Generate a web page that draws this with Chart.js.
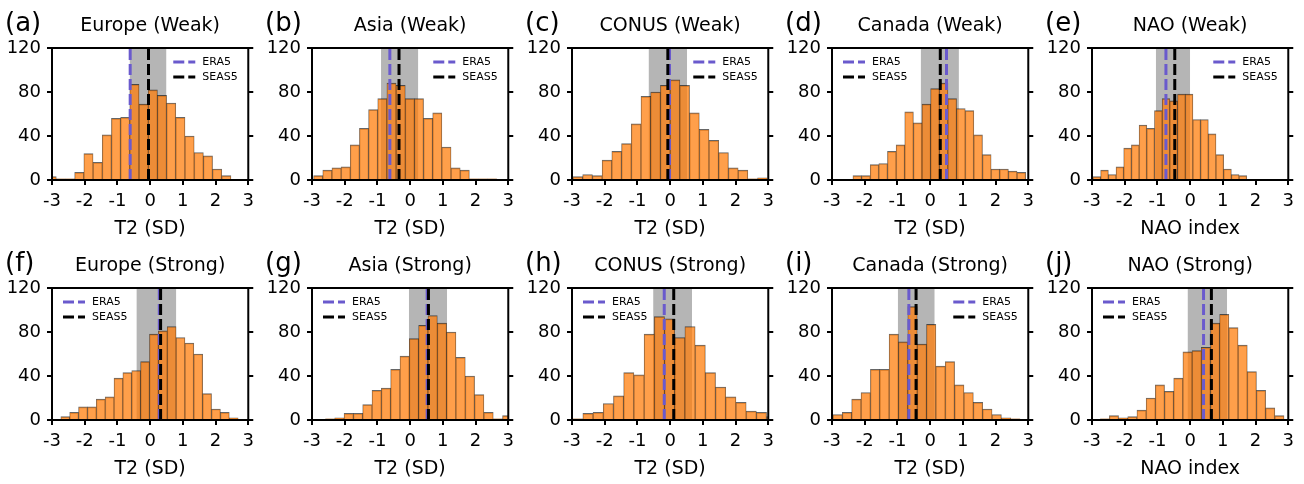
<!DOCTYPE html>
<html lang="en">
<head>
<meta charset="UTF-8">
<title>T2 and NAO histograms</title>
<style>
  html, body { margin: 0; padding: 0; background: #fff; }
  #wrap { position: relative; width: 1304px; height: 484px; overflow: hidden; }
  .panel { position: absolute; width: 260px; }
</style>
</head>
<body>
<div id="wrap"></div>

<script src="https://cdn.jsdelivr.net/npm/chart.js"></script>
<script>
    // panel text
    var panelLetters = ['(a)', '(b)', '(c)', '(d)', '(e)', '(f)', '(g)', '(h)', '(i)', '(j)'];
    var panelTitles = ['Europe (Weak)', 'Asia (Weak)', 'CONUS (Weak)', 'Canada (Weak)', 'NAO (Weak)',
                       'Europe (Strong)', 'Asia (Strong)', 'CONUS (Strong)', 'Canada (Strong)', 'NAO (Strong)'];
    var axisTitles = ['T2 (SD)', 'T2 (SD)', 'T2 (SD)', 'T2 (SD)', 'NAO index',
                      'T2 (SD)', 'T2 (SD)', 'T2 (SD)', 'T2 (SD)', 'NAO index'];
    var xTicks = [-3, -2, -1, 0, 1, 2, 3];
    var yTicks = [0, 40, 80, 120];

    // histogram bins: first edge and width of each panel's 20 bins
    var binStart = [-3.15, -2.95, -2.97, -2.36, -2.97, -2.73, -2.59, -2.98, -2.97, -2.75];
    var binWidth = [0.281, 0.280, 0.297, 0.264, 0.235, 0.271, 0.285, 0.312, 0.286, 0.281];

    // counts per bin
    var europeWeak   = [3, 1, 1, 7, 24, 16, 41, 56, 57, 87, 69, 82, 77, 70, 57, 40, 25, 22, 10, 4];
    var asiaWeak     = [4, 9, 11, 12, 32, 47, 64, 74, 88, 86, 74, 74, 56, 61, 30, 11, 9, 1, 1, 1];
    var conusWeak    = [3, 5, 4, 18, 26, 33, 51, 76, 80, 86, 91, 86, 61, 46, 36, 25, 11, 9, 1, 2];
    var canadaWeak   = [4, 4, 14, 15, 26, 32, 62, 52, 69, 83, 88, 74, 65, 63, 41, 23, 10, 10, 8, 7];
    var naoWeak      = [3, 9, 5, 12, 29, 32, 50, 47, 63, 74, 72, 78, 78, 55, 55, 42, 23, 10, 5, 4];
    var europeStrong = [3, 7, 12, 12, 19, 21, 38, 43, 45, 53, 78, 81, 85, 75, 70, 60, 24, 10, 7, 2];
    var asiaStrong   = [1, 2, 6, 6, 14, 27, 29, 46, 58, 74, 86, 95, 88, 80, 57, 40, 23, 7, 1, 4];
    var conusStrong  = [1, 6, 7, 15, 22, 43, 41, 78, 94, 92, 75, 85, 68, 43, 30, 21, 16, 8, 7, 3];
    var canadaStrong = [5, 7, 19, 25, 46, 46, 78, 71, 103, 69, 87, 49, 53, 32, 25, 16, 10, 5, 2, 1];
    var naoStrong    = [1, 4, 2, 3, 9, 20, 32, 26, 38, 62, 63, 66, 88, 96, 84, 68, 44, 27, 11, 4];
    var allCounts = [europeWeak, asiaWeak, conusWeak, canadaWeak, naoWeak,
                     europeStrong, asiaStrong, conusStrong, canadaStrong, naoStrong];

    // vertical markers and shaded range
    var era5Values  = [-0.61, -0.62, -0.02, 0.50, -0.74, 0.28, 0.52, -0.18, -0.65, 0.41];
    var seas5Values = [-0.05, -0.34, -0.07, 0.31, -0.47, 0.32, 0.56, 0.11, -0.43, 0.65];
    var bandLow     = [-0.63, -0.89, -0.66, -0.29, -1.05, -0.42, -0.04, -0.52, -0.99, -0.08];
    var bandHigh    = [0.50, 0.25, 0.52, 0.88, 0.00, 0.80, 1.13, 0.67, 0.14, 1.13];

    // which corner the legend sits in
    var legendSide = ['right', 'right', 'right', 'left', 'right', 'left', 'left', 'left', 'right', 'left'];

    Chart.defaults.font.family = '"DejaVu Sans", sans-serif';
    Chart.defaults.color = '#000';

    // frame, legend, titles
    var panelDecor = {
        id: 'panelDecor',
        afterDatasetsDraw: function(chart, args, opts) {
            var ctx = chart.ctx;
            var a = chart.chartArea;
            var mid = (a.left + a.right) / 2;
            ctx.save();
            ctx.strokeStyle = '#000';
            ctx.lineWidth = 2;
            ctx.strokeRect(a.left, a.top, a.right - a.left, a.bottom - a.top);

            var x0 = opts.side === 'left' ? a.left + 11 : a.right - 75;
            var named = chart.data.datasets.filter(function(d) { return d.label; });
            named.forEach(function(d, k) {
                var y = a.top + 14 + k * 15;
                ctx.setLineDash(d.borderDash);
                ctx.strokeStyle = d.borderColor;
                ctx.lineWidth = d.borderWidth;
                ctx.beginPath();
                ctx.moveTo(x0, y);
                ctx.lineTo(x0 + 22, y);
                ctx.stroke();
                ctx.setLineDash([]);
                ctx.fillStyle = '#000';
                ctx.font = '11px "DejaVu Sans"';
                ctx.textAlign = 'left';
                ctx.textBaseline = 'middle';
                ctx.fillText(d.label, x0 + 29, y);
            });

            ctx.fillStyle = '#000';
            ctx.textBaseline = 'middle';
            ctx.textAlign = 'center';
            ctx.font = '19px "DejaVu Sans"';
            ctx.fillText(opts.title, mid, a.top - 22);
            ctx.fillText(opts.xTitle, mid, a.bottom + 49);
            ctx.textAlign = 'left';
            ctx.font = '26px "DejaVu Sans"';
            ctx.fillText(opts.letter, 5, a.top - 24);
            ctx.restore();
        }
    };

    function tickGrid() {
        return { display: true, drawOnChartArea: false, drawTicks: true, tickLength: 5,
                 color: '#000', lineWidth: 2, offset: false };
    }

    var wrap = document.getElementById('wrap');

    for (var i = 0; i < 10; i++) {
        var row = Math.floor(i / 5);
        var col = i % 5;
        var H = row === 0 ? 240 : 244;
        var box = document.createElement('div');
        box.className = 'panel';
        box.style.left = (col * 260) + 'px';
        box.style.top = (row === 0 ? 0 : 240) + 'px';
        box.style.height = H + 'px';
        var cv = document.createElement('canvas');
        cv.width = 260;
        cv.height = H;
        box.appendChild(cv);
        wrap.appendChild(box);

        var bars = allCounts[i].map(function(c, k) {
            return { x: binStart[i] + (k + 0.5) * binWidth[i], y: c };
        });

        makePanel(cv, i, H, bars);
    }

    function makePanel(cv, i, H, bars) {
        new Chart(cv.getContext('2d'), {
            type: 'bar',
            data: {
                datasets: [{
                    type: 'line',
                    label: 'ERA5',
                    data: [{ x: era5Values[i], y: 0 }, { x: era5Values[i], y: 120 }],
                    borderColor: '#6a5acd',
                    borderWidth: 3,
                    borderDash: [11, 4],
                    pointRadius: 0,
                    fill: false,
                    order: 1
                }, {
                    type: 'line',
                    label: 'SEAS5',
                    data: [{ x: seas5Values[i], y: 0 }, { x: seas5Values[i], y: 120 }],
                    borderColor: '#000',
                    borderWidth: 3,
                    borderDash: [11, 4],
                    pointRadius: 0,
                    fill: false,
                    order: 0
                }, {
                    type: 'bar',
                    data: bars,
                    backgroundColor: 'rgba(255, 127, 14, 0.75)',
                    borderColor: 'rgba(0, 0, 0, 0.6)',
                    borderWidth: { top: 1, left: 0.6, right: 0.6, bottom: 0 },
                    borderSkipped: false,
                    barPercentage: 1,
                    categoryPercentage: 1,
                    clip: 0,
                    order: 2
                }, {
                    type: 'line',
                    data: [{ x: bandLow[i], y: 120 }, { x: bandHigh[i], y: 120 }],
                    backgroundColor: '#b5b5b5',
                    borderWidth: 0,
                    pointRadius: 0,
                    fill: 'origin',
                    order: 3
                }]
            },
            options: {
                responsive: false,
                animation: false,
                devicePixelRatio: 1,
                layout: { padding: { top: 48, left: 0, right: 0, bottom: 0 } },
                plugins: {
                    legend: { display: false },
                    tooltip: { enabled: false },
                    panelDecor: {
                        side: legendSide[i],
                        title: panelTitles[i],
                        letter: panelLetters[i],
                        xTitle: axisTitles[i]
                    }
                },
                scales: {
                    x: {
                        type: 'linear',
                        min: -3,
                        max: 3,
                        offset: false,
                        afterBuildTicks: function(s) { s.ticks = xTicks.map(function(v) { return { value: v }; }); },
                        afterFit: function(s) { s.height = H - 180; },
                        grid: tickGrid(),
                        border: { display: false },
                        ticks: { color: '#000', font: { size: 18 }, padding: 6, maxRotation: 0, autoSkip: false }
                    },
                    y: {
                        type: 'linear',
                        min: 0,
                        max: 120,
                        afterBuildTicks: function(s) { s.ticks = yTicks.map(function(v) { return { value: v }; }); },
                        afterFit: function(s) { s.width = 52; },
                        grid: tickGrid(),
                        border: { display: false },
                        ticks: { color: '#000', font: { size: 18 }, padding: 6 }
                    },
                    y2: {
                        type: 'linear',
                        position: 'right',
                        min: 0,
                        max: 120,
                        afterBuildTicks: function(s) { s.ticks = yTicks.map(function(v) { return { value: v }; }); },
                        afterFit: function(s) { s.width = 10; },
                        grid: tickGrid(),
                        border: { display: false },
                        ticks: { display: false }
                    }
                }
            },
            plugins: [panelDecor]
        });
    }
</script>
</body>
</html>
